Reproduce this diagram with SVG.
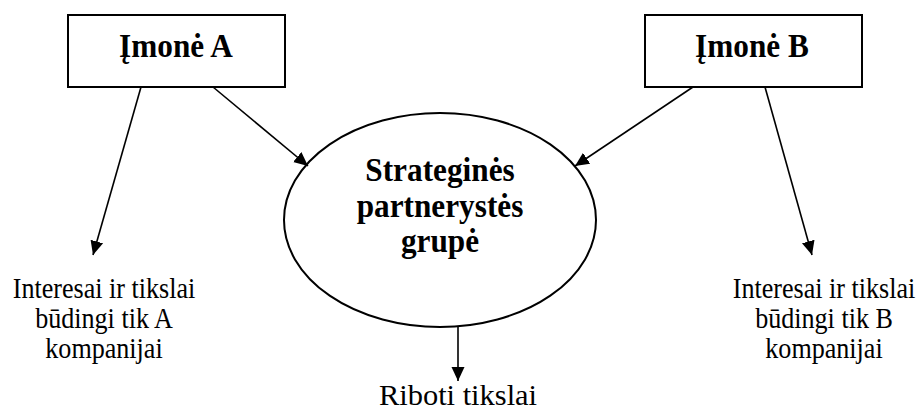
<svg xmlns="http://www.w3.org/2000/svg" width="919" height="412" viewBox="0 0 919 412">
  <style>
    .box { fill: #ffffff; stroke: #000000; stroke-width: 2; }
    .oval { fill: #ffffff; stroke: #000000; stroke-width: 2; }
    .edge { fill: none; stroke: #000000; stroke-width: 1.6; marker-end: url(#head); }
    .title { font-family: "Liberation Serif", "Times New Roman", serif; font-weight: bold; font-size: 34px; text-anchor: middle; fill: #000000; }
    .label { font-family: "Liberation Serif", "Times New Roman", serif; font-size: 29px; text-anchor: middle; fill: #000000; }
  </style>
  <defs>
    <marker id="head" viewBox="0 0 14 14" refX="14" refY="7" markerWidth="14" markerHeight="14" markerUnits="userSpaceOnUse" orient="auto">
      <path d="M0,0.5 L14,7 L0,13.5 Z" fill="#000000"/>
    </marker>
  </defs>

  <rect width="919" height="412" fill="#ffffff"/>

  <g id="company-a">
    <rect class="box" x="68" y="15" width="217" height="72"/>
    <text class="title" transform="translate(176,57) scale(0.92,1)">Įmonė A</text>
  </g>

  <g id="company-b">
    <rect class="box" x="645" y="15" width="217" height="72"/>
    <text class="title" transform="translate(752,57) scale(0.92,1)">Įmonė B</text>
  </g>

  <g id="partnership-group">
    <ellipse class="oval" cx="440" cy="220" rx="156" ry="107"/>
    <text class="title" transform="translate(440,181) scale(0.92,1)">Strateginės</text>
    <text class="title" transform="translate(440,217) scale(0.92,1)">partnerystės</text>
    <text class="title" transform="translate(440,252) scale(0.92,1)">grupė</text>
  </g>

  <g id="goals-a">
    <text class="label" transform="translate(104,298) scale(0.9,1)">Interesai ir tikslai</text>
    <text class="label" transform="translate(104,328) scale(0.9,1)">būdingi tik A</text>
    <text class="label" transform="translate(104,358) scale(0.9,1)">kompanijai</text>
  </g>

  <g id="goals-b">
    <text class="label" transform="translate(824,298) scale(0.9,1)">Interesai ir tikslai</text>
    <text class="label" transform="translate(824,328) scale(0.9,1)">būdingi tik B</text>
    <text class="label" transform="translate(824,358) scale(0.9,1)">kompanijai</text>
  </g>

  <g id="limited-goals">
    <text class="label" transform="translate(458,405) scale(1.05,1)">Riboti tikslai</text>
  </g>

  <g id="connectors">
    <line class="edge" x1="213" y1="87" x2="308" y2="166"/>
    <line class="edge" x1="141" y1="87" x2="93" y2="255"/>
    <line class="edge" x1="693" y1="87" x2="575" y2="166"/>
    <line class="edge" x1="765" y1="87" x2="812" y2="255"/>
    <line class="edge" x1="458" y1="327" x2="458" y2="381"/>
  </g>
</svg>
